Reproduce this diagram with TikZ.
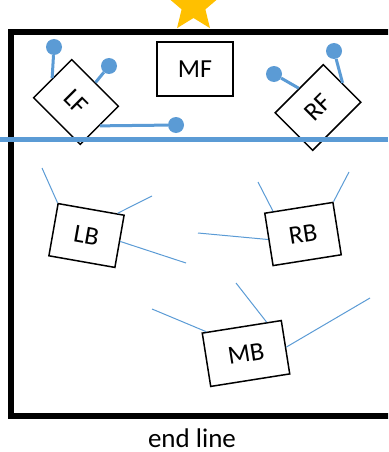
\documentclass[tikz,border=0pt]{standalone}
\usepackage{fontspec}
\setmainfont{Carlito}
\usetikzlibrary{calc}
\definecolor{fieldblue}{HTML}{5B9BD5}
\definecolor{staryellow}{HTML}{FFC000}
\begin{document}
\begin{tikzpicture}[x=1pt,y=-1pt,
  player/.style={draw=black, line width=1.5pt, fill=white, rectangle, inner sep=0pt, font=\fontsize{26}{30}\selectfont},
  thinlink/.style={draw=fieldblue, line width=1pt},
  thicklink/.style={draw=fieldblue, line width=3pt},
  dot/.style={circle, fill=fieldblue, inner sep=0pt, minimum size=16pt},
  frame/.style={line width=6pt, line join=miter}]
\useasboundingbox (0,0) rectangle (388,452);
\clip (0,0) rectangle (388,452);
% star
\fill[staryellow] (193.5,-22.5) -- (200.85,-4.61) -- (220.13,-3.15) -- (205.39,9.36) -- (209.96,28.15)
  -- (193.5,18) -- (177.04,28.15) -- (181.61,9.36) -- (166.87,-3.15) -- (186.15,-4.61) -- cycle;
% field frame
\draw[frame] (400,32) -- (11,32) -- (11,416) -- (400,416);
% players
\node[player, rotate=-45, minimum width=66pt, minimum height=54pt] (LF) at (76,102) {LF};
\node[player, minimum width=76pt, minimum height=54pt] (MF) at (195,69) {MF};
\node[player, rotate=45, minimum width=68pt, minimum height=53pt] (RF) at (318,107.5) {RF};
\node[player, rotate=-10, minimum width=67pt, minimum height=53pt] (LB) at (86.5,235.5) {LB};
\node[player, rotate=9, minimum width=69pt, minimum height=53pt] (RB) at (303,234) {RB};
\node[player, rotate=9, minimum width=80pt, minimum height=54pt] (MB) at (246,353.5) {MB};
% dots
\node[dot] (LFd1) at (54,47) {};
\node[dot] (LFd2) at (109,66) {};
\node[dot] (LFd3) at (176,125) {};
\node[dot] (RFd1) at (274,74) {};
\node[dot] (RFd2) at (334,51) {};
\draw[thicklink] (LF.west) -- (LFd1);
\draw[thicklink] (LF.north) -- (LFd2);
\draw[thicklink] (LF.east) -- (LFd3);
\draw[thicklink] (RF.north) -- (RFd1);
\draw[thicklink] (RF.east) -- (RFd2);
% free ends
\coordinate (lb1) at (42,168);
\coordinate (lb2) at (152,196);
\coordinate (lb3) at (186,263);
\coordinate (rb1) at (258,182);
\coordinate (rb2) at (349,172);
\coordinate (rb3) at (198,233);
\coordinate (mb1) at (152,309);
\coordinate (mb2) at (236,283);
\coordinate (mb3) at (370,298);
\draw[thinlink] (LB.north west) -- (lb1);
\draw[thinlink] ($(LB.north west)!0.89!(LB.north east)$) -- (lb2);
\draw[thinlink] (LB.east) -- (lb3);
\draw[thinlink] ($(RB.north west)!0.13!(RB.north east)$) -- (rb1);
\draw[thinlink] (RB.north east) -- (rb2);
\draw[thinlink] (RB.west) -- (rb3);
\draw[thinlink] ($(MB.north west)!0.06!(MB.north east)$) -- (mb1);
\draw[thinlink] ($(MB.north west)!0.81!(MB.north east)$) -- (mb2);
\draw[thinlink] (MB.east) -- (mb3);
% blue field line
\draw[fieldblue, line width=5pt] (0,139) -- (388,139);
% caption
\node[font=\fontsize{27}{30}\selectfont, anchor=base, inner sep=0pt] (endline) at (192,447) {end line};
\end{tikzpicture}
\end{document}
